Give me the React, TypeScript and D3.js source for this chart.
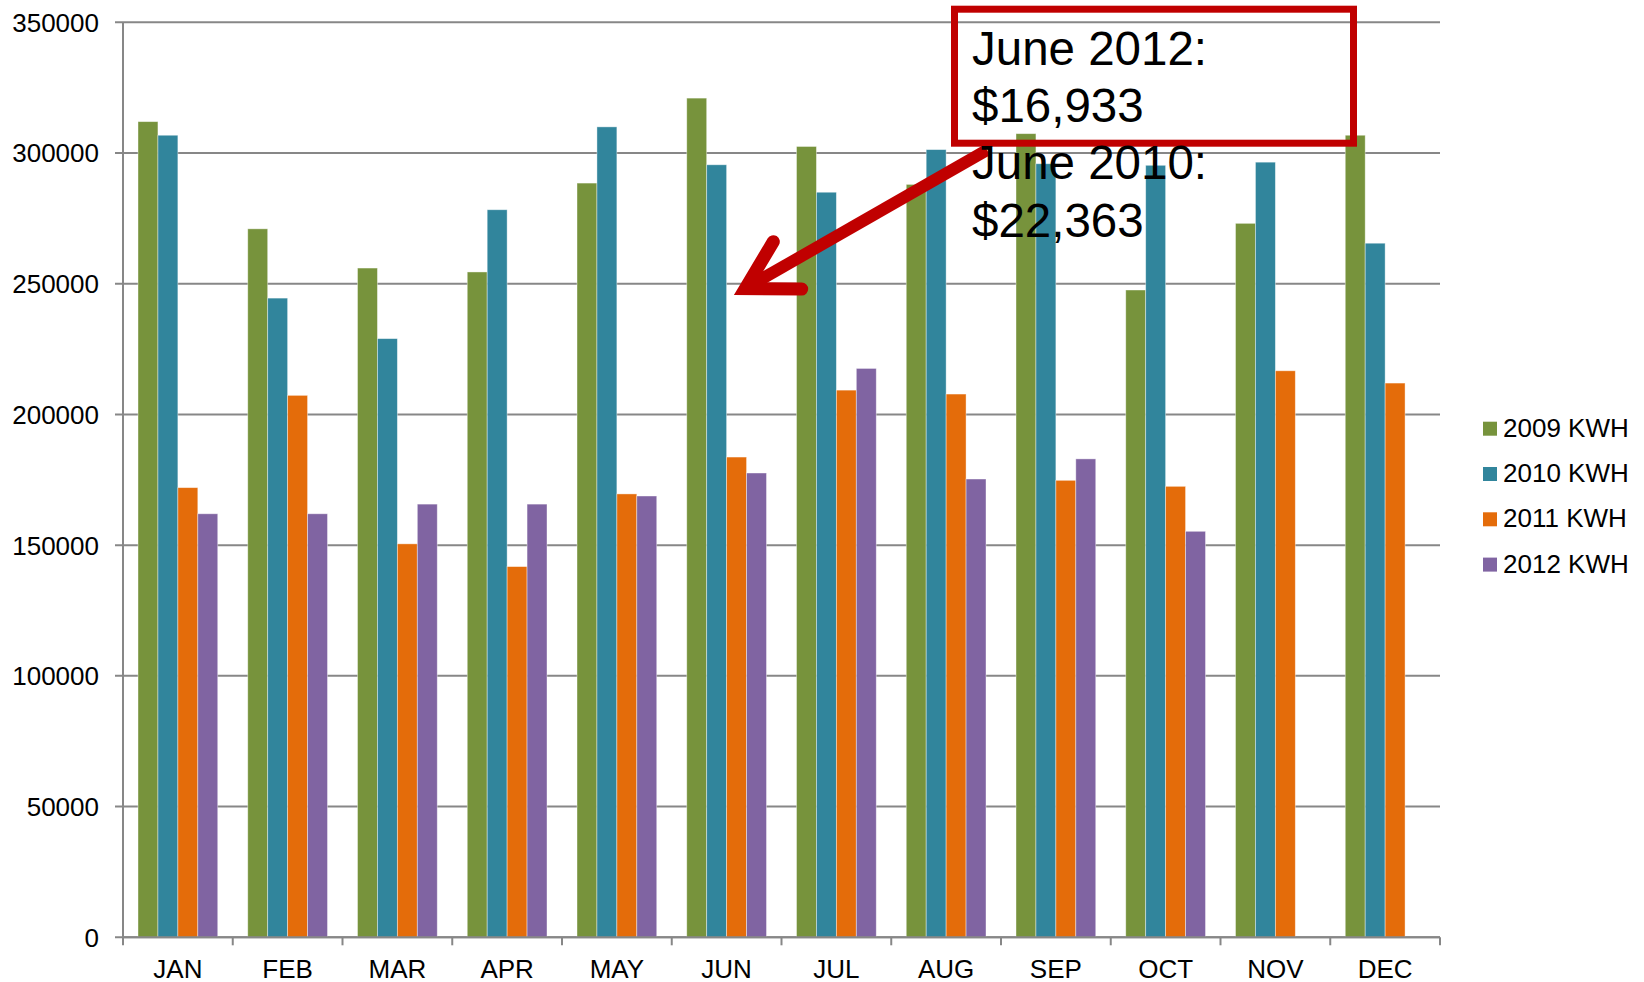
import React from 'react';
import * as d3 from 'd3';

// monthly kWh by year
const months = ['JAN', 'FEB', 'MAR', 'APR', 'MAY', 'JUN', 'JUL', 'AUG', 'SEP', 'OCT', 'NOV', 'DEC'];
const seriesNames = ['2009 KWH', '2010 KWH', '2011 KWH', '2012 KWH'];
const kwh2009 = [312000, 271000, 256000, 254500, 288500, 321000, 302500, 288000, 307400, 247600, 273100, 306800];
const kwh2010 = [306800, 244500, 229000, 278300, 310000, 295500, 285000, 301300, 295900, 295300, 296500, 265500];
const kwh2011 = [172000, 207300, 150500, 141800, 169600, 183700, 209300, 207800, 174800, 172500, 216700, 212000];
const kwh2012 = [162000, 162000, 165700, 165700, 168800, 177600, 217600, 175300, 183000, 155300, null, null];
const yTicks = [0, 50000, 100000, 150000, 200000, 250000, 300000, 350000];
const colors = ['#77933C', '#31859C', '#E46C0A', '#8064A2'];
const noteLines = ['June 2012:', '$16,933', 'June 2010:', '$22,363'];

const allSeries = [kwh2009, kwh2010, kwh2011, kwh2012];
const font = '"Liberation Sans", Arial, sans-serif';

const App = () => {
  let width = 1644;
  let height = 982;
  let margin = {top: 22.3, right: 204, bottom: 44.7, left: 123};
  let plotBottom = height - margin.bottom;

  let yScale = d3.scaleLinear()
    .domain([0, 350000])
    .range([plotBottom, margin.top]);

  let x0 = d3.scaleBand()
    .domain(months)
    .range([margin.left, width - margin.right]);

  let x1 = d3.scaleBand()
    .domain(seriesNames)
    .range([15, x0.bandwidth() - 15]);

  let gridColor = '#878787';

  return (
    <svg width={width} height={height} style={{position: 'absolute', left: 0, top: 0, display: 'block', background: '#fff'}}>
      {/* gridlines + y ticks */}
      {yTicks.map((t) => (
        <g key={t}>
          <line x1={margin.left - 8} x2={width - margin.right} y1={yScale(t)} y2={yScale(t)}
            stroke={gridColor} strokeWidth={2} />
          <text x={99} y={yScale(t)} dy="0.36em" textAnchor="end" fontFamily={font} fontSize={26} fill="#000">{t}</text>
        </g>
      ))}
      <line x1={margin.left} x2={margin.left} y1={margin.top} y2={plotBottom} stroke={gridColor} strokeWidth={2} />

      {/* bars */}
      {months.map((m, i) => (
        <g key={m}>
          {allSeries.map((s, j) => (
            s[i] == null ? null :
            <rect key={j}
              x={x0(m) + x1(seriesNames[j])}
              y={yScale(s[i])}
              width={x1.bandwidth()}
              height={plotBottom - yScale(s[i])}
              fill={colors[j]}
              stroke="#ffffff"
              strokeOpacity={0.5}
              strokeWidth={0.8} />
          ))}
        </g>
      ))}

      {/* x axis */}
      <line x1={margin.left} x2={width - margin.right} y1={plotBottom} y2={plotBottom} stroke={gridColor} strokeWidth={2} />
      {months.concat(['']).map((m, i) => {
        let xx = margin.left + i * x0.bandwidth();
        return <line key={'t' + i} x1={xx} x2={xx} y1={plotBottom} y2={plotBottom + 8} stroke={gridColor} strokeWidth={2} />;
      })}
      {months.map((m) => (
        <text key={'l' + m} x={x0(m) + x0.bandwidth() / 2} y={977.5} textAnchor="middle" fontFamily={font} fontSize={26} fill="#000">{m}</text>
      ))}

      {/* legend */}
      {seriesNames.map((n, j) => (
        <g key={n} transform={'translate(1483,' + (421.7 + j * 45.3) + ')'}>
          <rect x={0} y={0} width={14} height={14} fill={colors[j]} />
          <text x={20} y={15} fontFamily={font} fontSize={26} fill="#000">{n}</text>
        </g>
      ))}

      {/* arrow */}
      <line x1={745} y1={288.5} x2={987} y2={150} stroke="#C00000" strokeWidth={12} />
      <path d="M773.3,241.7 L745.3,288.5 L801.7,289" fill="none" stroke="#C00000" strokeWidth={13}
        strokeLinecap="round" strokeLinejoin="miter" strokeMiterlimit={6} />

      {/* annotation box */}
      <rect x={954.5} y={9.2} width={399} height={134} fill="none" stroke="#C00000" strokeWidth={7} />
      {noteLines.map((t, i) => (
        <text key={t} x={972} y={65 + i * 57.2} fontFamily={font} fontSize={47.5} fill="#000">{t}</text>
      ))}
    </svg>
  );
};

export default App;
